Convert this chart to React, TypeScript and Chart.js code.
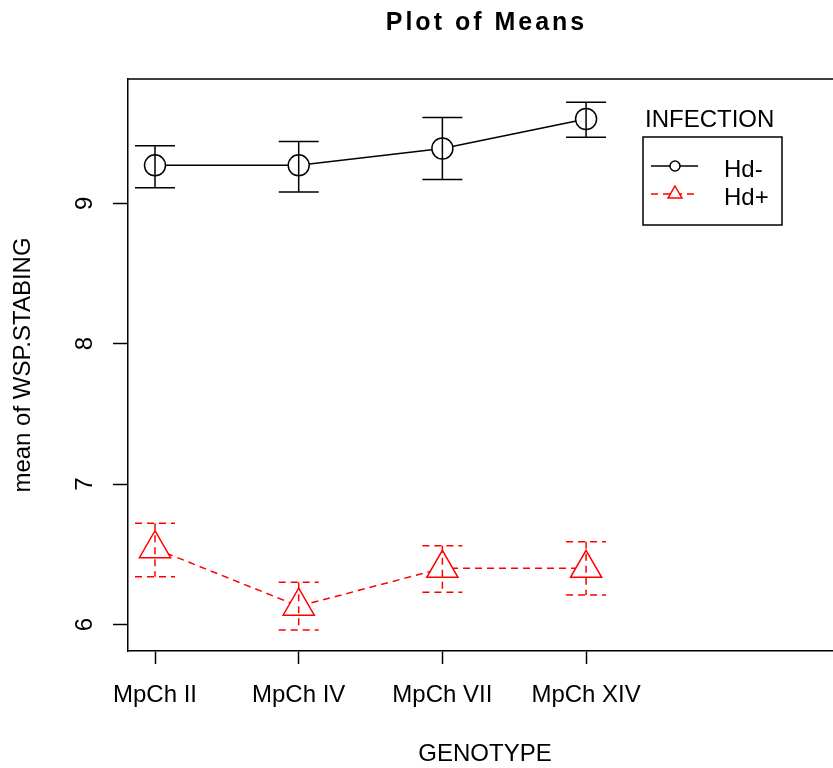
import React, { useEffect, useRef } from 'react';
import { Chart, registerables } from 'chart.js';

Chart.register(...registerables);

const chartTitle = 'Plot of Means';
const xAxisTitle = 'GENOTYPE';
const yAxisTitle = 'mean of WSP.STABING';
const legendTitle = 'INFECTION';

const categories = ['MpCh II', 'MpCh IV', 'MpCh VII', 'MpCh XIV'];
const categoryPositions = [1, 2, 3, 4];
const yTickValues = [6, 7, 8, 9];
const seriesNames = ['Hd-', 'Hd+'];

const hdMinusMeans = [9.27, 9.27, 9.39, 9.6];
const hdMinusLower = [9.11, 9.08, 9.17, 9.47];
const hdMinusUpper = [9.41, 9.44, 9.61, 9.72];

const hdPlusMeans = [6.54, 6.13, 6.4, 6.4];
const hdPlusLower = [6.34, 5.96, 6.23, 6.21];
const hdPlusUpper = [6.72, 6.3, 6.56, 6.59];

const FONT = '"Liberation Sans", Arial, sans-serif';
const RED = '#ff0000';
const RED_DASH = [7, 5];

export default function App() {
  const ref = useRef<HTMLCanvasElement>(null);

  useEffect(() => {
    const canvas = ref.current;
    if (!canvas) return;

    const bars = [
      { lo: hdMinusLower, hi: hdMinusUpper, color: '#000000', dash: [] as number[] },
      { lo: hdPlusLower, hi: hdPlusUpper, color: RED, dash: RED_DASH },
    ];

    const errorBarsPlugin = {
      id: 'errorBars',
      afterDatasetsDraw(chart: any) {
        const { ctx } = chart;
        const xs = chart.scales.x;
        const ys = chart.scales.y;
        ctx.save();
        bars.forEach((b) => {
          ctx.strokeStyle = b.color;
          ctx.lineWidth = 1.5;
          ctx.setLineDash(b.dash);
          categoryPositions.forEach((p, i) => {
            const px = xs.getPixelForValue(p);
            const yl = ys.getPixelForValue(b.lo[i]);
            const yh = ys.getPixelForValue(b.hi[i]);
            ctx.beginPath();
            ctx.moveTo(px, yh);
            ctx.lineTo(px, yl);
            ctx.moveTo(px - 20, yh);
            ctx.lineTo(px + 20, yh);
            ctx.moveTo(px - 20, yl);
            ctx.lineTo(px + 20, yl);
            ctx.stroke();
          });
        });
        ctx.restore();
      },
    };

    const framePlugin = {
      id: 'frameAndTitle',
      afterDraw(chart: any) {
        const { ctx, chartArea } = chart;
        ctx.save();
        ctx.strokeStyle = '#000';
        ctx.lineWidth = 1.5;
        ctx.setLineDash([]);
        ctx.beginPath();
        ctx.moveTo(chartArea.left, chartArea.top);
        ctx.lineTo(chartArea.right, chartArea.top);
        ctx.lineTo(chartArea.right, chartArea.bottom);
        ctx.stroke();

        // main title
        ctx.fillStyle = '#000';
        ctx.font = `bold 25px ${FONT}`;
        (ctx as any).letterSpacing = '3px';
        ctx.textAlign = 'center';
        ctx.textBaseline = 'alphabetic';
        ctx.fillText(chartTitle, (chartArea.left + chartArea.right) / 2 + 1.5, 30);
        (ctx as any).letterSpacing = '0px';

        // legend
        ctx.font = `24px ${FONT}`;
        ctx.textAlign = 'left';
        ctx.fillText(legendTitle, 645, 127);
        ctx.strokeRect(643, 137, 139, 88);

        const rows = [166, 194];
        chart.data.datasets.forEach((ds: any, i: number) => {
          const y = rows[i];
          ctx.strokeStyle = ds.borderColor;
          ctx.lineWidth = 1.5;
          ctx.setLineDash(ds.borderDash || []);
          ctx.beginPath();
          ctx.moveTo(651, y);
          ctx.lineTo(698, y);
          ctx.stroke();
          ctx.setLineDash([]);
          ctx.fillStyle = '#fff';
          ctx.beginPath();
          if (ds.pointStyle === 'triangle') {
            const r = 8;
            ctx.moveTo(675, y - r);
            ctx.lineTo(675 + r * 0.866, y + r / 2);
            ctx.lineTo(675 - r * 0.866, y + r / 2);
            ctx.closePath();
          } else {
            ctx.arc(675, y, 5, 0, Math.PI * 2);
          }
          ctx.fill();
          ctx.stroke();
          ctx.fillStyle = '#000';
          ctx.fillText(ds.label, 724, y + 10.5);
        });
        ctx.restore();
      },
    };

    const chart = new Chart(canvas, {
      type: 'line',
      data: {
        datasets: [
          {
            label: seriesNames[0],
            data: categoryPositions.map((p, i) => ({ x: p, y: hdMinusMeans[i] })),
            borderColor: '#000000',
            borderWidth: 1.5,
            pointStyle: 'circle',
            pointRadius: 10.5,
            pointBorderWidth: 1.5,
            pointBorderColor: '#000000',
            pointBackgroundColor: '#ffffff',
            tension: 0,
            fill: false,
          },
          {
            label: seriesNames[1],
            data: categoryPositions.map((p, i) => ({ x: p, y: hdPlusMeans[i] })),
            borderColor: RED,
            borderDash: RED_DASH,
            borderWidth: 1.5,
            pointStyle: 'triangle',
            pointRadius: 18,
            pointBorderWidth: 1.5,
            pointBorderColor: RED,
            pointBackgroundColor: '#ffffff',
            tension: 0,
            fill: false,
          },
        ],
      },
      options: {
        responsive: false,
        animation: false,
        devicePixelRatio: 1,
        layout: { autoPadding: false, padding: { top: 79, left: 0, right: 0, bottom: 0 } },
        plugins: {
          legend: { display: false },
          title: { display: false },
          tooltip: { enabled: false },
        },
        scales: {
          x: {
            type: 'linear',
            min: 0.8121,
            max: 5.781,
            afterBuildTicks: (scale: any) => {
              scale.ticks = categoryPositions.map((v) => ({ value: v }));
            },
            afterFit: (scale: any) => {
              scale.height = 117;
              scale.paddingLeft = 0;
              scale.paddingRight = 0;
            },
            ticks: {
              autoSkip: false,
              maxRotation: 0,
              minRotation: 0,
              padding: 17.3,
              color: '#000',
              font: { family: FONT, size: 24, lineHeight: 1.2 },
              callback: (v: any) => categories[categoryPositions.indexOf(Number(v))] ?? '',
            },
            grid: {
              display: true,
              drawOnChartArea: false,
              drawTicks: true,
              tickLength: 13,
              tickColor: '#000',
              tickWidth: 1.5,
            },
            border: { display: true, color: '#000', width: 1.5 },
            title: {
              display: true,
              text: xAxisTitle,
              color: '#000',
              font: { family: FONT, size: 24, lineHeight: 1 },
              padding: { top: 0, bottom: 1.3 },
            },
          },
          y: {
            type: 'linear',
            min: 5.811,
            max: 9.885,
            afterBuildTicks: (scale: any) => {
              scale.ticks = yTickValues.map((v) => ({ value: v }));
            },
            afterFit: (scale: any) => {
              scale.width = 128;
              scale.paddingTop = 0;
              scale.paddingBottom = 0;
            },
            ticks: {
              minRotation: 90,
              maxRotation: 90,
              crossAlign: 'center',
              padding: 21,
              color: '#000',
              font: { family: FONT, size: 24, lineHeight: 1.2 },
              callback: (v: any) => String(v),
            },
            grid: {
              display: true,
              drawOnChartArea: false,
              drawTicks: true,
              tickLength: 15,
              tickColor: '#000',
              tickWidth: 1.5,
            },
            border: { display: true, color: '#000', width: 1.5 },
            title: {
              display: true,
              text: yAxisTitle,
              color: '#000',
              font: { family: FONT, size: 24, lineHeight: 1 },
              padding: { top: 11.7, bottom: 0 },
            },
          },
        },
      },
      plugins: [errorBarsPlugin, framePlugin],
    } as any);

    return () => chart.destroy();
  }, []);

  return (
    <div
      style={{
        position: 'fixed',
        left: 0,
        top: 0,
        width: 833,
        height: 768,
        overflow: 'hidden',
        background: '#fff',
      }}
    >
      <canvas ref={ref} width={842} height={768} style={{ display: 'block', width: 842, height: 768 }} />
    </div>
  );
}
